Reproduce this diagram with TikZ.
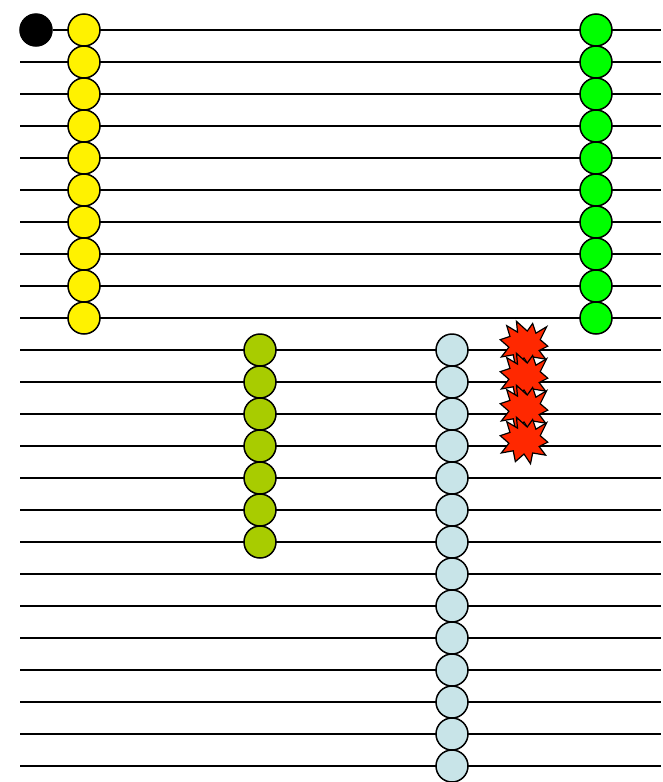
\documentclass[tikz,border=0pt]{standalone}
\begin{document}
\begin{tikzpicture}[x=1pt,y=-1pt,
  rowline/.style={line width=1.8pt,black},
  bead/.style={circle,draw=black,line width=1.5pt,minimum size=32pt,inner sep=0pt},
  yb/.style={bead,fill=yellow},
  gb/.style={bead,fill={rgb,255:red,0;green,255;blue,0}},
  ob/.style={bead,fill={rgb,255:red,168;green,204;blue,0}},
  lb/.style={bead,fill={rgb,255:red,200;green,228;blue,232}},
  kb/.style={bead,fill=black},
  burst/.pic={\filldraw[fill={rgb,255:red,255;green,40;blue,0},draw=black,line width=1.2pt,line join=miter,scale=1.08]
    (-7,-21) -- (3,-12) -- (8,-19) -- (11,-10) -- (21,-16) -- (15,-4) -- (22,2) -- (14,6)
    -- (20,14) -- (8,12) -- (6,22) -- (0,13) -- (-8,20) -- (-10,10) -- (-21,12) -- (-14,3)
    -- (-22,-4) -- (-13,-7) -- (-16,-17) -- (-6,-11) -- cycle;}
]
\useasboundingbox (0,0) rectangle (662,782);
% lines
\node[kb] (k) at (36,30) {};
\coordinate (e0) at (661,30);
\draw[rowline] (k) -- (e0);
\foreach \i in {1,...,23}{
  \coordinate (s\i) at (20,30+32*\i);
  \coordinate (e\i) at (661,30+32*\i);
  \draw[rowline] (s\i) -- (e\i);
}
% beads
\foreach \i in {0,...,9}{
  \node[yb] (y\i) at (84,30+32*\i) {};
  \node[gb] (g\i) at (596,30+32*\i) {};
}
\foreach \i in {10,...,16}{
  \node[ob] (o\i) at (260,30+32*\i) {};
}
\foreach \i in {10,...,23}{
  \node[lb] (l\i) at (452,30+32*\i) {};
}
\foreach \i in {10,...,13}{
  \pic at (524,24+32*\i) {burst};
}
\end{tikzpicture}
\end{document}
